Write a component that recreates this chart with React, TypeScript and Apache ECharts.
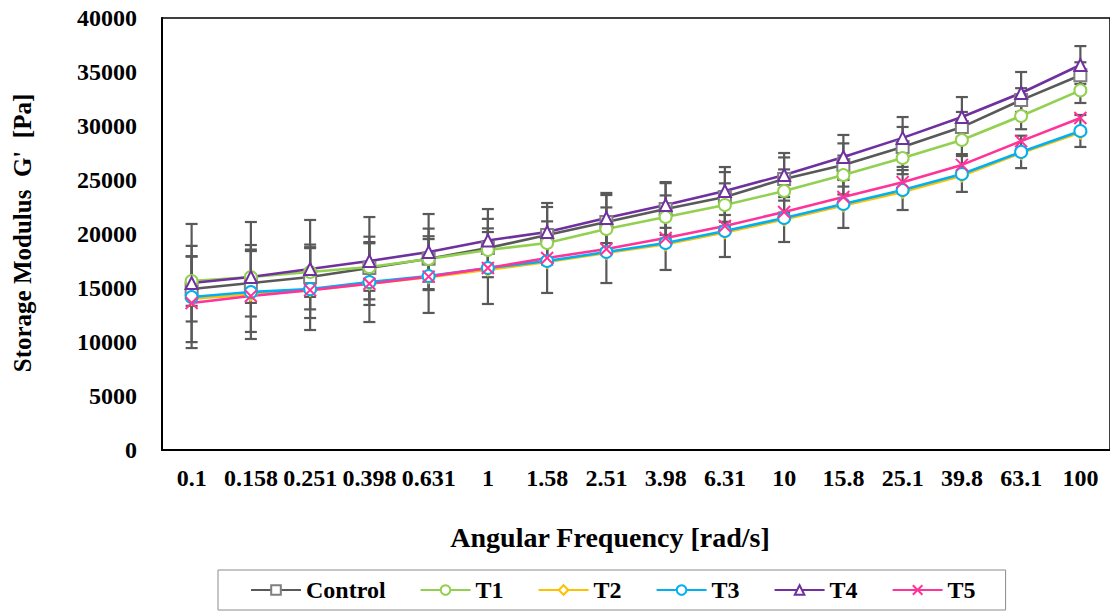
import React, { useEffect, useRef } from "react";
import * as echarts from "echarts";

const categories = ["0.1", "0.158", "0.251", "0.398", "0.631", "1", "1.58", "2.51", "3.98", "6.31", "10", "15.8", "25.1", "39.8", "63.1", "100"];

const control = [14900, 15460, 16020, 16850, 17700, 18700, 19900, 21110, 22310, 23430, 25090, 26390, 28060, 29900, 32400, 34700];
const t1 = [15650, 16020, 16480, 16940, 17690, 18520, 19170, 20460, 21570, 22690, 23980, 25460, 27040, 28700, 30930, 33300];
const t2 = [14000, 14400, 14800, 15400, 16000, 16700, 17400, 18250, 19050, 20150, 21350, 22650, 23900, 25400, 27500, 29400];
const t3 = [14170, 14630, 14900, 15550, 16110, 16850, 17500, 18330, 19170, 20280, 21480, 22780, 24070, 25560, 27600, 29540];
const t4 = [15460, 16020, 16760, 17500, 18330, 19400, 20190, 21480, 22690, 23980, 25460, 27130, 28900, 30830, 33060, 35650];
const t5 = [13610, 14260, 14800, 15400, 16050, 16850, 17780, 18610, 19630, 20740, 22040, 23430, 24800, 26400, 28600, 30740];

const controlErr = [3000, 3100, 3000, 2900, 2800, 2700, 2600, 2500, 2400, 2300, 2000, 2000, 1850, 1400, 1100, 1200];
const t1Err = [2300, 2400, 2300, 2200, 2100, 2000, 2000, 2000, 2000, 2000, 2000, 1800, 1500, 1300, 1230, 1170];
const t3Err = [4730, 4350, 3790, 3700, 3420, 3330, 2960, 2870, 2500, 2410, 2220, 2220, 1850, 1660, 1500, 1480];
const t4Err = [5470, 5090, 4540, 4070, 3520, 2910, 2680, 2320, 2120, 2220, 2040, 2040, 1930, 1850, 1940, 1750];

const yTicks = { min: 0, max: 40000, interval: 5000 };

const FONT = "Liberation Serif";

function errorData(values: number[], errs: number[]) {
  return values.map((v, i) => [i, v - errs[i], v + errs[i]]);
}

const renderErr = (_params: any, api: any) => {
  const x = api.value(0);
  const lo = api.coord([x, api.value(1)]);
  const hi = api.coord([x, api.value(2)]);
  const half = 6;
  const style = { stroke: "#595959", lineWidth: 2.2 };
  return {
    type: "group",
    children: [
      { type: "line", shape: { x1: lo[0], y1: lo[1], x2: hi[0], y2: hi[1] }, style },
      { type: "line", shape: { x1: hi[0] - half, y1: hi[1], x2: hi[0] + half, y2: hi[1] }, style },
      { type: "line", shape: { x1: lo[0] - half, y1: lo[1], x2: lo[0] + half, y2: lo[1] }, style },
    ],
  };
};

const X_SYMBOL = "path://M0,0L10,10M10,0L0,10";

export default function App() {
  const ref = useRef<HTMLDivElement>(null);
  useEffect(() => {
    document.body.style.margin = "0";
    if (!ref.current) return;
    const chart = echarts.init(ref.current, null, { renderer: "svg" });

    const lineSeries = (name: string, data: number[], color: string, symbol: string, extra: any = {}) => ({
      name,
      type: "line",
      data,
      symbol,
      symbolSize: 12,
      z: 3,
      lineStyle: { color: extra.lineColor || color, width: 2.6 },
      itemStyle: { color, borderWidth: 2, ...(extra.itemStyle || {}) },
    });

    const errSeries = (values: number[], errs: number[]) => ({
      type: "custom",
      renderItem: renderErr,
      data: errorData(values, errs),
      encode: { x: 0, y: [1, 2] },
      z: 1,
      silent: true,
    });

    chart.setOption({
      animation: false,
      textStyle: { fontFamily: FONT },
      grid: { left: 162, top: 18, width: 952, height: 432, show: true, borderColor: "#000", borderWidth: 1.5 },
      xAxis: {
        type: "category",
        data: categories,
        boundaryGap: true,
        axisLine: { lineStyle: { color: "#000", width: 2 } },
        axisTick: { show: false },
        axisLabel: { interval: 0, color: "#000", fontWeight: "bold", fontSize: 24, fontFamily: FONT, margin: 16 },
        splitLine: { show: false },
      },
      yAxis: {
        type: "value",
        min: yTicks.min,
        max: yTicks.max,
        interval: yTicks.interval,
        axisLine: { show: true, lineStyle: { color: "#000", width: 2 } },
        axisTick: { show: false },
        axisLabel: {
          color: "#000",
          fontWeight: "bold",
          fontSize: 24,
          fontFamily: FONT,
          margin: 25,
          formatter: (v: number) => String(v),
        },
        splitLine: { show: false },
      },
      legend: {
        data: ["Control", "T1", "T2", "T3", "T4", "T5"],
        left: 218,
        top: 570,
        orient: "horizontal",
        itemWidth: 50,
        itemHeight: 12,
        itemGap: 34,
        padding: [8, 30, 8, 32],
        borderColor: "#8c8c8c",
        borderWidth: 1,
        textStyle: { color: "#000", fontWeight: "bold", fontSize: 24, fontFamily: FONT },
      },
      graphic: [
        {
          type: "text",
          x: 610,
          y: 537,
          style: {
            text: "Angular Frequency [rad/s]",
            fontFamily: FONT,
            fontWeight: "bold",
            fontSize: 28,
            fill: "#000",
            textAlign: "center",
            textVerticalAlign: "middle",
          },
        },
        {
          type: "text",
          x: 22,
          y: 233,
          rotation: Math.PI / 2,
          style: {
            text: "Storage Modulus  G'  [Pa]",
            fontFamily: FONT,
            fontWeight: "bold",
            fontSize: 25,
            fill: "#000",
            textAlign: "center",
            textVerticalAlign: "middle",
          },
        },
      ],
      series: [
        errSeries(control, controlErr),
        errSeries(t1, t1Err),
        errSeries(t3, t3Err),
        errSeries(t4, t4Err),
        lineSeries("Control", control, "#7f7f7f", "emptyRect", { lineColor: "#595959" }),
        lineSeries("T1", t1, "#92D050", "emptyCircle"),
        lineSeries("T2", t2, "#FFC000", "emptyDiamond"),
        lineSeries("T3", t3, "#00B0F0", "emptyCircle"),
        lineSeries("T4", t4, "#7030A0", "emptyTriangle"),
        lineSeries("T5", t5, "#FF3399", X_SYMBOL, { itemStyle: { borderColor: "#FF3399", borderWidth: 2 } }),
      ],
    });
    return () => chart.dispose();
  }, []);
  return <div ref={ref} style={{ width: 1110, height: 616 }} />;
}
